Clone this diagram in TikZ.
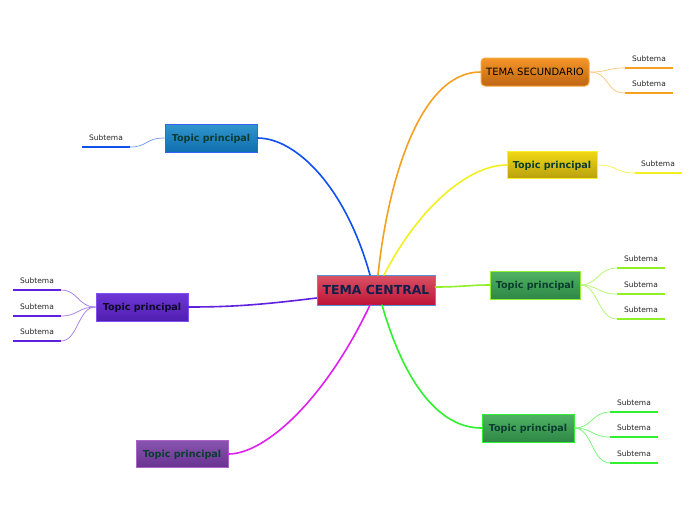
\documentclass[tikz,border=0pt]{standalone}
\usepackage{fontspec}
\setmainfont{DejaVu Sans}
\begin{document}
\begin{tikzpicture}[x=1pt,y=-1pt,
  topicbox/.style={draw, line width=1pt, minimum width=92pt, minimum height=28pt, inner sep=0pt, text depth=0.5pt,
    font=\fontsize{9.6}{11}\selectfont\bfseries, text=topictext},
  subtxt/.style={font=\fontsize{7.5}{9}\selectfont, text=black!85, inner sep=0pt},
  mainline/.style={line width=1.6pt, line cap=round},
  subline/.style={line width=0.7pt},
  uline/.style={line width=1.8pt}
]
\definecolor{topictext}{HTML}{0A3D30}
\definecolor{corange}{HTML}{F5A020}
\definecolor{cyellow}{HTML}{F2F020}
\definecolor{clime}{HTML}{90F028}
\definecolor{cgreen}{HTML}{30F030}
\definecolor{cblue}{HTML}{1050F0}
\definecolor{cpurple}{HTML}{6020E0}
\definecolor{cmagenta}{HTML}{E020F0}
\useasboundingbox[fill=white] (0,0) rectangle (696,520);

% central
\node[draw={rgb,255:red,80;green,150;blue,215}, line width=1pt, minimum width=118pt, minimum height=30pt, inner sep=0pt,
  top color={rgb,255:red,218;green,82;blue,100}, bottom color={rgb,255:red,190;green,20;blue,55},
  font=\fontsize{12.4}{14}\selectfont\bfseries, text={rgb,255:red,16;green,32;blue,74}] (c) at (376,290) {TEMA CENTRAL};

% topics
\node[draw={rgb,255:red,248;green,168;blue,60}, line width=1pt, rounded corners=4pt, minimum width=108pt, minimum height=28pt, inner sep=0pt,
  top color={rgb,255:red,245;green,150;blue,40}, bottom color={rgb,255:red,190;green,100;blue,20},
  font=\fontsize{10}{12}\selectfont, text=black] (ts) at (535,72) {TEMA SECUNDARIO};
\node[topicbox, minimum width=90pt, minimum height=27pt, draw={rgb,255:red,248;green,240;blue,40},
  top color={rgb,255:red,240;green,215;blue,20}, bottom color={rgb,255:red,185;green,160;blue,15}] (ty) at (552,165) {Topic principal};
\node[topicbox, minimum width=90pt, draw={rgb,255:red,150;green,240;blue,50},
  top color={rgb,255:red,80;green,180;blue,100}, bottom color={rgb,255:red,45;green,135;blue,70}] (tg1) at (535,285) {Topic principal};
\node[topicbox, draw={rgb,255:red,50;green,240;blue,50},
  top color={rgb,255:red,80;green,180;blue,100}, bottom color={rgb,255:red,45;green,135;blue,70}] (tg2) at (528,428) {Topic principal};
\node[topicbox, draw={rgb,255:red,50;green,100;blue,240},
  top color={rgb,255:red,50;green,150;blue,205}, bottom color={rgb,255:red,15;green,110;blue,175}] (tb) at (211,138) {Topic principal};
\node[topicbox, draw={rgb,255:red,130;green,80;blue,240}, text={rgb,255:red,16;green,8;blue,40},
  top color={rgb,255:red,110;green,55;blue,215}, bottom color={rgb,255:red,80;green,30;blue,175}] (tp) at (142,307) {Topic principal};
\node[topicbox, minimum height=27pt, draw={rgb,255:red,170;green,100;blue,200},
  top color={rgb,255:red,135;green,85;blue,175}, bottom color={rgb,255:red,105;green,50;blue,145}] (tm) at (182,454) {Topic principal};

% main connectors
\draw[mainline, corange] (378,275) .. controls (388,180) and (420,72) .. (ts.west);
\draw[mainline, cyellow] (384,275) .. controls (420,205) and (470,165) .. (ty.west);
\draw[mainline, clime] (c.east|-0,287) .. controls (460,287) and (470,285) .. (tg1.west);
\draw[mainline, cgreen] (382,305) .. controls (405,385) and (440,428) .. (tg2.west);
\draw[mainline, cblue] (370,275) .. controls (345,185) and (295,138) .. (tb.east);
\draw[mainline, cpurple] (c.west|-0,298) .. controls (260,305) and (230,307) .. (tp.east);
\draw[mainline, cmagenta] (370,305) .. controls (325,400) and (265,454) .. (tm.east);

% TEMA SECUNDARIO
\node[subtxt] (s1) at (649,59) {Subtema};
\node[subtxt] (s2) at (649,84) {Subtema};
\coordinate (s1a) at (625,68); \coordinate (s1b) at (673,68);
\coordinate (s2a) at (625,93); \coordinate (s2b) at (673,93);
\draw[uline, corange] (s1a) -- (s1b); \draw[uline, corange] (s2a) -- (s2b);
\draw[subline, corange!60] (ts.east) .. controls (610,72) and (605,68) .. (s1a);
\draw[subline, corange!60] (ts.east) .. controls (610,72) and (605,93) .. (s2a);

% yellow
\node[subtxt] (s3) at (658,164) {Subtema};
\coordinate (s3a) at (635,173); \coordinate (s3b) at (682,173);
\draw[uline, cyellow] (s3a) -- (s3b);
\draw[subline, cyellow!80] (ty.east) .. controls (618,165) and (615,173) .. (s3a);

% green 1
\node[subtxt] (s4) at (641,259) {Subtema};
\node[subtxt] (s5) at (641,285) {Subtema};
\node[subtxt] (s6) at (641,310) {Subtema};
\coordinate (s4a) at (617,268); \coordinate (s4b) at (665,268);
\coordinate (s5a) at (617,294); \coordinate (s5b) at (665,294);
\coordinate (s6a) at (617,319); \coordinate (s6b) at (665,319);
\foreach \s in {s4,s5,s6}{\draw[uline, clime] (\s a) -- (\s b);}
\draw[subline, clime!70] (tg1.east) .. controls (598,285) and (598,268) .. (s4a);
\draw[subline, clime!70] (tg1.east) .. controls (598,285) and (598,294) .. (s5a);
\draw[subline, clime!70] (tg1.east) .. controls (598,285) and (598,319) .. (s6a);

% green 2
\node[subtxt] (s7) at (634,403) {Subtema};
\node[subtxt] (s8) at (634,428) {Subtema};
\node[subtxt] (s9) at (634,454) {Subtema};
\coordinate (s7a) at (610,412); \coordinate (s7b) at (658,412);
\coordinate (s8a) at (610,437); \coordinate (s8b) at (658,437);
\coordinate (s9a) at (610,463); \coordinate (s9b) at (658,463);
\foreach \s in {s7,s8,s9}{\draw[uline, cgreen] (\s a) -- (\s b);}
\draw[subline, cgreen!70] (tg2.east) .. controls (592,428) and (592,412) .. (s7a);
\draw[subline, cgreen!70] (tg2.east) .. controls (592,428) and (592,437) .. (s8a);
\draw[subline, cgreen!70] (tg2.east) .. controls (592,428) and (592,463) .. (s9a);

% blue
\node[subtxt] (s10) at (106,138) {Subtema};
\coordinate (s10a) at (130,147); \coordinate (s10b) at (82,147);
\draw[uline, cblue] (s10a) -- (s10b);
\draw[subline, cblue!60] (tb.west) .. controls (145,138) and (148,147) .. (s10a);

% purple
\node[subtxt] (s11) at (37,281) {Subtema};
\node[subtxt] (s12) at (37,307) {Subtema};
\node[subtxt] (s13) at (37,332) {Subtema};
\coordinate (s11a) at (61,290); \coordinate (s11b) at (13,290);
\coordinate (s12a) at (61,316); \coordinate (s12b) at (13,316);
\coordinate (s13a) at (61,341); \coordinate (s13b) at (13,341);
\foreach \s in {s11,s12,s13}{\draw[uline, cpurple] (\s a) -- (\s b);}
\draw[subline, cpurple!60] (tp.west) .. controls (78,307) and (78,290) .. (s11a);
\draw[subline, cpurple!60] (tp.west) .. controls (78,307) and (78,316) .. (s12a);
\draw[subline, cpurple!60] (tp.west) .. controls (78,307) and (78,341) .. (s13a);
\end{tikzpicture}
\end{document}
